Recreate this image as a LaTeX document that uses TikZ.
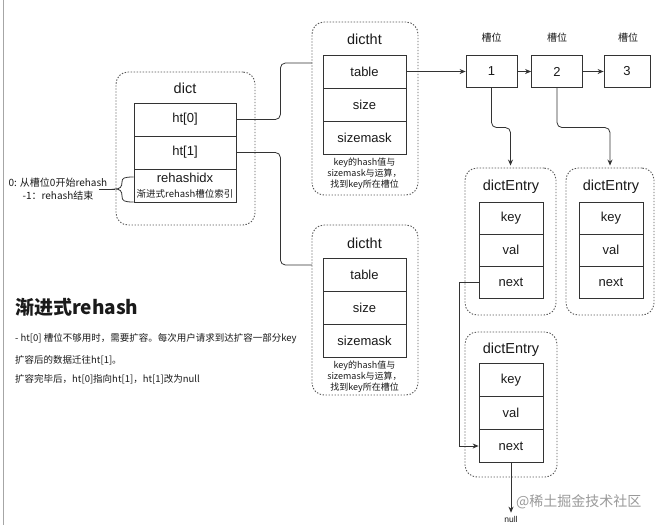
\documentclass[tikz,border=0pt]{standalone}
\usepackage{fontspec}
\setmainfont{Liberation Sans}
\newfontfamily\cjk{Noto Sans CJK SC}
\usetikzlibrary{arrows.meta}
\definecolor{ln}{HTML}{333333}
\definecolor{tx}{HTML}{1A1A1A}
\definecolor{cnt}{HTML}{555555}
\definecolor{wm}{HTML}{9A9A9A}
\begin{document}
\begin{tikzpicture}[x=1pt,y=-1pt,
  fld/.style={draw=ln, line width=0.8pt, minimum width=102pt, minimum height=33pt, inner sep=0pt, text=tx, font=\fontsize{13}{15}\selectfont},
  fldb/.style={fld, minimum width=83pt},
  flde/.style={fld, minimum width=64pt, minimum height=32pt},
  slotbox/.style={fld, minimum width=51pt, minimum height=32pt},
  container/.style={draw=cnt, line width=0.9pt, dash pattern=on 1.4pt off 1.6pt, rounded corners=12pt, inner sep=0pt},
  ttl/.style={text=tx, font=\fontsize{14.5}{16}\selectfont, inner sep=0pt},
  note/.style={text=tx, font=\cjk\fontsize{9}{11}\selectfont, align=center, inner sep=0pt},
  small/.style={text=tx, font=\cjk\fontsize{10}{13}\selectfont, inner sep=0pt},
  conn/.style={draw=ln, line width=0.8pt},
  arr/.style={conn, -{Stealth[length=6pt,width=5pt]}}
]
\useasboundingbox (0,0) rectangle (655,525);
\fill[white] (0,0) rectangle (655,525);
\draw[draw=gray!70, line width=0.8pt] (3,0) -- (3,525);

% dict
\node[container, minimum width=139pt, minimum height=153pt] (dict) at (185.5,148.5) {};
\node[ttl] (dictt) at (185,88) {dict};
\node[fld] (ht0) at (185,119.5) {ht[0]};
\node[fld] (ht1) at (185,152.5) {ht[1]};
\node[fld] (rh) at (185,185.5) {};
\node[text=tx, font=\fontsize{13}{15}\selectfont, inner sep=0pt] (rhl) at (185,178) {rehashidx};
\node[text=tx, font=\cjk\fontsize{9.5}{11}\selectfont, inner sep=0pt] (rhs) at (185,194) {渐进式rehash槽位索引};

% brace + left note
\coordinate (tip) at (115,189);
\draw[conn] ([yshift=8.5pt]rh.west) .. controls (124,177) and (122,178) .. (122,182)
  .. controls (122,187) and (120,189) .. (tip)
  .. controls (120,189) and (122,191) .. (122,196)
  .. controls (122,201) and (124,202) .. ([yshift=-16.5pt]rh.west);
\draw[conn] (tip) -- ++(-16,0);
\node[small, align=center] (lnote) at (58,189) {0: 从槽位0开始rehash\\-1：rehash结束};

% dictht 1
\node[container, minimum width=106pt, minimum height=173pt] (d1) at (365,108.5) {};
\node[ttl] (d1t) at (364.5,39) {dictht};
\node[fldb] (tb1) at (364.5,71.5) {table};
\node[fldb] (sz1) at (364.5,104.5) {size};
\node[fldb] (sm1) at (364.5,137.5) {sizemask};
\node[note] (n1note) at (364.5,174) {key的hash值与\\sizemask与运算，\\找到key所在槽位};

% dictht 2
\node[container, minimum width=106pt, minimum height=170pt] (d2) at (365,310) {};
\node[ttl] (d2t) at (364.5,243) {dictht};
\node[fldb] (tb2) at (364.5,274.5) {table};
\node[fldb] (sz2) at (364.5,307.5) {size};
\node[fldb] (sm2) at (364.5,340.5) {sizemask};
\node[note] (n2note) at (364.5,377) {key的hash值与\\sizemask与运算，\\找到key所在槽位};

% slots
\node[slotbox] (s1) at (491.5,71.5) {1};
\node[slotbox] (s2) at (557,71.5) {2};
\node[slotbox, minimum width=46pt] (s3) at (627,71.5) {3};
\node[small] (l1) at (491.5,38) {槽位};
\node[small] (l2) at (557,38) {槽位};
\node[small] (l3) at (628,38) {槽位};

% dictEntry 1
\node[container, minimum width=91pt, minimum height=147pt] (de1) at (510.5,241.5) {};
\node[ttl] (de1t) at (511,187) {dictEntry};
\node[flde] (k1) at (511,218) {key};
\node[flde] (v1) at (511,250) {val};
\node[flde] (x1) at (511,282) {next};

% dictEntry 2
\node[container, minimum width=88pt, minimum height=147pt] (de2) at (610,241.5) {};
\node[ttl] (de2t) at (611,187) {dictEntry};
\node[flde] (k2) at (611,218) {key};
\node[flde] (v2) at (611,250) {val};
\node[flde] (x2) at (611,282) {next};

% dictEntry 3
\node[container, minimum width=92pt, minimum height=145pt] (de3) at (511,404.5) {};
\node[ttl] (de3t) at (511,350) {dictEntry};
\node[flde, minimum height=33pt] (k3) at (511,380) {key};
\node[flde, minimum height=33pt] (v3) at (511,413) {val};
\node[flde, minimum height=33pt] (x3) at (511,446) {next};

\node[text=tx, font=\fontsize{8.5}{10}\selectfont, inner sep=0pt] (null) at (511,519) {null};

% connectors
\coordinate (j1) at (312,63);
\coordinate (j2) at (312,265);
\draw[conn, rounded corners=5pt] (ht0.east) -- ++(44,0) |- (j1);
\draw[conn, rounded corners=5pt] (ht1.east) -- ++(44,0) |- (j2);
\draw[arr] (tb1.east) -- (s1.west);
\draw[arr] (s1.east) -- (s2.west);
\draw[arr] (s2.east) -- (s3.west);
\draw[arr, rounded corners=5pt] (s1.south) |- ([yshift=40pt]de1.north) -- ([yshift=2pt]de1.north);
\draw[arr, rounded corners=5pt] (s2.south) |- ([yshift=40pt]de2.north) -- ([yshift=2pt]de2.north);
\draw[arr] (x1.west) -- ++(-19,0) |- (x3.west);
\draw[arr] (x3.south) -- ([yshift=3pt]null.north);

% left text
\node[anchor=west, text=tx, font=\cjk\bfseries\fontsize{19}{22}\selectfont, inner sep=0pt] (title) at (15,307) {渐进式rehash};
\node[anchor=west, text=tx, font=\cjk\fontsize{9.5}{11}\selectfont, inner sep=0pt] (t1) at (15,339) {- ht[0] 槽位不够用时，需要扩容。每次用户请求到达扩容一部分key};
\node[anchor=west, text=tx, font=\cjk\fontsize{9.5}{11}\selectfont, inner sep=0pt] (t2) at (15,360) {扩容后的数据迁往ht[1]。};
\node[anchor=west, text=tx, font=\cjk\fontsize{9.5}{11}\selectfont, inner sep=0pt] (t3) at (15,379) {扩容完毕后，ht[0]指向ht[1]，ht[1]改为null};

% watermark
\node[anchor=west, text=wm, font=\cjk\fontsize{14}{16}\selectfont, inner sep=0pt] (wmk) at (516,502) {@稀土掘金技术社区};
\end{tikzpicture}
\end{document}
